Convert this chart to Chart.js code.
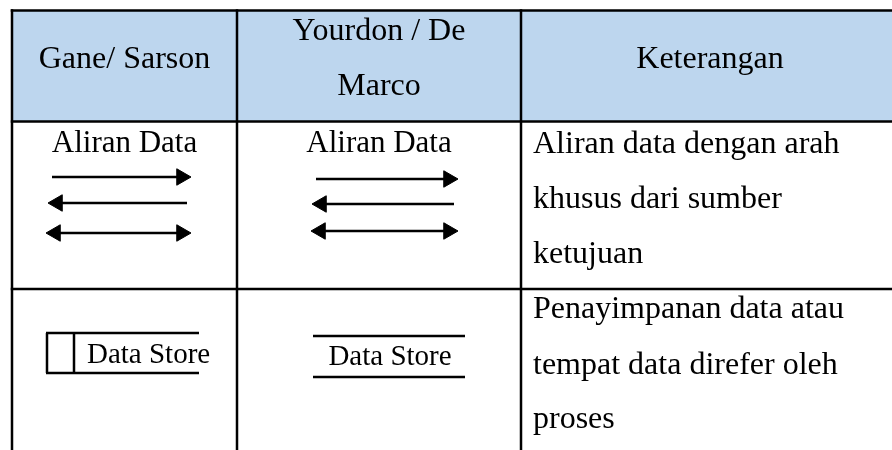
<!DOCTYPE html>
<html>
<head>
<meta charset="utf-8">
<script src="https://cdn.jsdelivr.net/npm/chart.js@4.4.1/dist/chart.umd.min.js"></script>
<style>
    html, body { margin: 0; padding: 0; background: #ffffff; }
</style>
</head>
<body>
<canvas id="dfdTable" width="892" height="450"></canvas>
<script>
// table grid (in the chart's own x / y units)
const colEdges = [12, 237, 521, 899];
const rowEdges = [10.5, 121.5, 289, 470];

// header cells
const headerText = [["Gane/ Sarson"], ["Yourdon / De", "Marco"], ["Keterangan"]];
const headerBaseline = [[68], [40, 95], [68]];

// row 1: data flow
const flowLabel = "Aliran Data";
const flowLabelBaseline = 152;
const flowDesc = ["Aliran data dengan arah", "khusus dari sumber", "ketujuan"];
const flowDescBaseline = [153, 208, 263];
// arrows: [left end, right end, y, head on left, head on right]
const gsArrows = [[52, 191, 177, false, true], [48, 187, 203, true, false], [46, 191, 233, true, true]];
const ydArrows = [[316, 458, 179, false, true], [312, 454, 204, true, false], [311, 458, 231, true, true]];

// row 2: data store
const storeLabel = "Data Store";
const storeDesc = ["Penayimpanan data atau", "tempat data direfer oleh", "proses"];
const storeDescBaseline = [318, 374, 428];
const gsStore = { left: 47, divider: 74, right: 199, top: 333, bottom: 373, textX: 87, baseline: 363 };
const ydStore = { left: 313, right: 465, top: 336, bottom: 377, textX: 390, baseline: 365 };

const ink = "#000000";
const headerFill = "#bdd6ee";
const headRadius = 9.5;

function seg(x1, y1, x2, y2, w) {
    return {
        type: "scatter",
        data: [{ x: x1, y: y1 }, { x: x2, y: y2 }],
        showLine: true,
        borderColor: ink,
        borderWidth: w,
        pointRadius: 0,
        borderCapStyle: "butt",
        order: 0
    };
}

let datasets = [];

// header background (drawn first, under the rules)
datasets.push({
    type: "line",
    data: [{ x: colEdges[0], y: rowEdges[0] }, { x: colEdges[3], y: rowEdges[0] }],
    borderWidth: 0,
    pointRadius: 0,
    backgroundColor: headerFill,
    fill: { value: rowEdges[1] },
    order: 10
});

// horizontal and vertical table rules
for (let i = 0; i < rowEdges.length - 1; i++) {
    datasets.push(seg(colEdges[0] - 1.25, rowEdges[i], colEdges[3], rowEdges[i], 2.5));
}
colEdges.forEach(function (x) {
    datasets.push(seg(x, rowEdges[0] - 1.25, x, rowEdges[3], 2.5));
});

// arrows: shaft + triangle heads
function addArrows(list) {
    list.forEach(function (a) {
        let x1 = a[3] ? a[0] + headRadius : a[0];
        let x2 = a[4] ? a[1] - headRadius : a[1];
        datasets.push(seg(x1, a[2], x2, a[2], 2.5));
        let heads = [];
        let rot = [];
        if (a[3]) { heads.push({ x: a[0] + headRadius, y: a[2] }); rot.push(-90); }
        if (a[4]) { heads.push({ x: a[1] - headRadius, y: a[2] }); rot.push(90); }
        datasets.push({
            type: "scatter",
            data: heads,
            pointStyle: "triangle",
            rotation: rot,
            pointRadius: headRadius,
            pointBackgroundColor: ink,
            pointBorderColor: ink,
            pointBorderWidth: 1,
            order: 0
        });
    });
}
addArrows(gsArrows);
addArrows(ydArrows);

// data store symbols
datasets.push(seg(gsStore.left - 1, gsStore.top, gsStore.right, gsStore.top, 2.5));
datasets.push(seg(gsStore.left - 1, gsStore.bottom, gsStore.right, gsStore.bottom, 2.5));
datasets.push(seg(gsStore.left, gsStore.top, gsStore.left, gsStore.bottom, 2.5));
datasets.push(seg(gsStore.divider, gsStore.top, gsStore.divider, gsStore.bottom, 2.5));
datasets.push(seg(ydStore.left, ydStore.top, ydStore.right, ydStore.top, 2.5));
datasets.push(seg(ydStore.left, ydStore.bottom, ydStore.right, ydStore.bottom, 2.5));

const serif = '"Liberation Serif", "Times New Roman", serif';

const cellText = {
    id: "cellText",
    afterDatasetsDraw(chart) {
        const ctx = chart.ctx;
        const xs = chart.scales.x;
        const ys = chart.scales.y;
        ctx.save();
        ctx.fillStyle = ink;
        ctx.textBaseline = "alphabetic";

        // headers, centred in each column
        ctx.font = "32px " + serif;
        ctx.textAlign = "center";
        headerText.forEach(function (lines, c) {
            let cx = xs.getPixelForValue((colEdges[c] + colEdges[c + 1]) / 2);
            lines.forEach(function (t, k) {
                ctx.fillText(t, cx, ys.getPixelForValue(headerBaseline[c][k]));
            });
        });

        // "Aliran Data" labels
        ctx.font = "31px " + serif;
        [0, 1].forEach(function (c) {
            let cx = xs.getPixelForValue((colEdges[c] + colEdges[c + 1]) / 2);
            ctx.fillText(flowLabel, cx, ys.getPixelForValue(flowLabelBaseline));
        });

        // description column
        ctx.textAlign = "left";
        ctx.font = "32px " + serif;
        let dx = xs.getPixelForValue(colEdges[2] + 12);
        flowDesc.forEach(function (t, k) {
            ctx.fillText(t, dx, ys.getPixelForValue(flowDescBaseline[k]));
        });
        storeDesc.forEach(function (t, k) {
            ctx.fillText(t, dx, ys.getPixelForValue(storeDescBaseline[k]));
        });

        // data store labels
        ctx.font = "29px " + serif;
        ctx.fillText(storeLabel, xs.getPixelForValue(gsStore.textX), ys.getPixelForValue(gsStore.baseline));
        ctx.textAlign = "center";
        ctx.fillText(storeLabel, xs.getPixelForValue(ydStore.textX), ys.getPixelForValue(ydStore.baseline));
        ctx.restore();
    }
};

new Chart(document.getElementById("dfdTable").getContext("2d"), {
    data: { datasets: datasets },
    options: {
        responsive: false,
        animation: false,
        devicePixelRatio: 1,
        layout: { padding: 0, autoPadding: false },
        scales: {
            x: { type: "linear", min: 0, max: 892, display: false },
            y: { type: "linear", min: 0, max: 450, reverse: true, display: false }
        },
        plugins: {
            legend: { display: false },
            tooltip: { enabled: false },
            filler: { drawTime: "beforeDatasetsDraw" }
        },
        events: []
    },
    plugins: [cellText]
});
</script>
</body>
</html>
